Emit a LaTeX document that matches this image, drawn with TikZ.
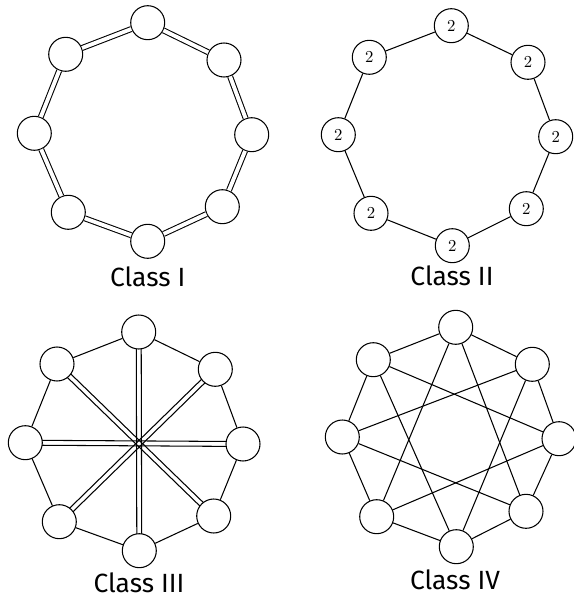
\documentclass[tikz,border=0pt]{standalone}
\usepackage{fontspec}
\newfontfamily\captionfont{Fira Sans}
\usetikzlibrary{calc,backgrounds}

\begin{document}
\begin{tikzpicture}[
    x=0.02cm, y=-0.02cm,
    vertex/.style={circle, draw=black, line width=0.6pt, fill=white, minimum size=34*0.02cm, inner sep=0pt, font=\fontsize{9.5}{11}\selectfont},
    edge/.style={line width=0.6pt},
    doubleedge/.style={line width=0.6pt, double, double distance=2.2pt},
    caption/.style={font=\captionfont\fontsize{15}{17}\selectfont}
]
\useasboundingbox (0,0) rectangle (574,598);

% Class I: ring of double bonds
\node[vertex] (one1) at (147.7,22.7) {};
\node[vertex] (one2) at (224,60) {};
\node[vertex] (one3) at (251.7,134.7) {};
\node[vertex] (one4) at (222.3,206.7) {};
\node[vertex] (one5) at (147.7,241.3) {};
\node[vertex] (one6) at (68.3,212.3) {};
\node[vertex] (one7) at (34.3,133.3) {};
\node[vertex] (one8) at (65.7,54.3) {};
\node[caption] (capone) at (147.7,277) {Class I};

\draw[doubleedge] (one1) -- (one2);
\draw[doubleedge] (one2) -- (one3);
\draw[doubleedge] (one3) -- (one4);
\draw[doubleedge] (one4) -- (one5);
\draw[doubleedge] (one5) -- (one6);
\draw[doubleedge] (one6) -- (one7);
\draw[doubleedge] (one7) -- (one8);
\draw[doubleedge] (one8) -- (one1);

% Class II: labelled ring
\node[vertex] (two1) at (451.3,25.7) {2};
\node[vertex] (two2) at (528,62.3) {2};
\node[vertex] (two3) at (555.7,136.7) {2};
\node[vertex] (two4) at (526.3,208.7) {2};
\node[vertex] (two5) at (452.3,245.7) {2};
\node[vertex] (two6) at (371,213.3) {2};
\node[vertex] (two7) at (338.3,134.7) {2};
\node[vertex] (two8) at (369.3,57.3) {2};
\node[caption] (captwo) at (452,276) {Class II};

\draw[edge] (two1) -- (two2);
\draw[edge] (two2) -- (two3);
\draw[edge] (two3) -- (two4);
\draw[edge] (two4) -- (two5);
\draw[edge] (two5) -- (two6);
\draw[edge] (two6) -- (two7);
\draw[edge] (two7) -- (two8);
\draw[edge] (two8) -- (two1);

% Class III: ring with double spokes
\node[vertex] (three1) at (138.7,332) {};
\node[vertex] (three2) at (215.3,369.3) {};
\node[vertex] (three3) at (243,444) {};
\node[vertex] (three4) at (213.7,516) {};
\node[vertex] (three5) at (139.3,550.7) {};
\node[vertex] (three6) at (59.3,521.7) {};
\node[vertex] (three7) at (25.3,442.7) {};
\node[vertex] (three8) at (57,364) {};
\node[caption] (capthree) at (139,583) {Class III};

\draw[edge] (three1) -- (three2);
\draw[edge] (three2) -- (three3);
\draw[edge] (three3) -- (three4);
\draw[edge] (three4) -- (three5);
\draw[edge] (three5) -- (three6);
\draw[edge] (three6) -- (three7);
\draw[edge] (three7) -- (three8);
\draw[edge] (three8) -- (three1);

\begin{scope}[on background layer]
\draw[edge] ($(three1)!1.4pt!90:(three5)$) -- ($(three5)!1.4pt!-90:(three1)$)
            ($(three1)!1.4pt!-90:(three5)$) -- ($(three5)!1.4pt!90:(three1)$);
\draw[edge] ($(three2)!1.4pt!90:(three6)$) -- ($(three6)!1.4pt!-90:(three2)$)
            ($(three2)!1.4pt!-90:(three6)$) -- ($(three6)!1.4pt!90:(three2)$);
\draw[edge] ($(three3)!1.4pt!90:(three7)$) -- ($(three7)!1.4pt!-90:(three3)$)
            ($(three3)!1.4pt!-90:(three7)$) -- ($(three7)!1.4pt!90:(three3)$);
\draw[edge] ($(three4)!1.4pt!90:(three8)$) -- ($(three8)!1.4pt!-90:(three4)$)
            ($(three4)!1.4pt!-90:(three8)$) -- ($(three8)!1.4pt!90:(three4)$);
\end{scope}

% Class IV: ring with star chords
\node[vertex] (four1) at (455.7,327.3) {};
\node[vertex] (four2) at (532.3,364.3) {};
\node[vertex] (four3) at (559,438.7) {};
\node[vertex] (four4) at (526,511.3) {};
\node[vertex] (four5) at (456.3,546.7) {};
\node[vertex] (four6) at (376.7,516.7) {};
\node[vertex] (four7) at (342.3,437) {};
\node[vertex] (four8) at (373.3,359.7) {};
\node[caption] (capfour) at (455,580) {Class IV};

\draw[edge] (four1) -- (four2);
\draw[edge] (four2) -- (four3);
\draw[edge] (four3) -- (four4);
\draw[edge] (four4) -- (four5);
\draw[edge] (four5) -- (four6);
\draw[edge] (four6) -- (four7);
\draw[edge] (four7) -- (four8);
\draw[edge] (four8) -- (four1);

\draw[edge] (four1) -- (four4);
\draw[edge] (four2) -- (four5);
\draw[edge] (four3) -- (four6);
\draw[edge] (four4) -- (four7);
\draw[edge] (four5) -- (four8);
\draw[edge] (four6) -- (four1);
\draw[edge] (four7) -- (four2);
\draw[edge] (four8) -- (four3);

\end{tikzpicture}
\end{document}
